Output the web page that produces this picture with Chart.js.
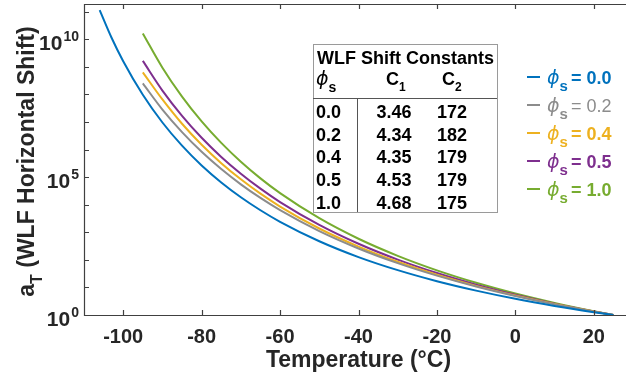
<!DOCTYPE html>
<html>
<head>
<meta charset="utf-8">
<script src="https://cdn.jsdelivr.net/npm/chart.js@4.4.1/dist/chart.umd.min.js"></script>
<style>
  html, body { margin: 0; padding: 0; background: #fff; overflow: hidden; }
  #wrap { position: relative; width: 640px; height: 378px; }
</style>
</head>
<body>
<div id="wrap"><canvas id="chart" width="640" height="378"></canvas></div>
<script>
// ---------------- DATA ----------------
const phiLabels = ['0.0', '0.2', '0.4', '0.5', '1.0'];
const c1Values = ['3.46', '4.34', '4.35', '4.53', '4.68'];
const c2Values = ['172', '182', '179', '179', '175'];

// temperature (°C)
const tempsBlue = [-106, -103, -100, -95, -90, -85, -80, -75, -70, -65, -60, -50, -40, -30, -20, -10, 0, 10, 20, 25];
const tempsOther = [-95, -90, -85, -80, -75, -70, -65, -60, -50, -40, -30, -20, -10, 0, 10, 20, 25];

const aT00 = [1.14e11, 1.16e10, 1.59e9, 9.66e7, 9.57e6, 1.38e6, 2.64e5, 6.40e4, 1.86e4, 6.28e3, 2.40e3, 473, 126, 42.3, 16.8, 7.66, 3.87, 2.14, 1.27, 1];
const aT02 = [2.51e8, 2.81e7, 4.28e6, 8.28e5, 1.96e5, 5.48e4, 1.76e4, 6.35e3, 1.10e3, 258, 75.9, 26.7, 10.8, 4.91, 2.45, 1.33, 1];
const aT04 = [6.31e8, 6.55e7, 8.61e6, 1.49e6, 3.21e5, 8.32e4, 2.51e4, 8.59e3, 1.37e3, 302, 84.9, 28.9, 11.4, 5.08, 2.50, 1.33, 1];
const aT05 = [1.64e9, 1.38e8, 1.67e7, 2.68e6, 5.42e5, 1.33e5, 3.81e4, 1.25e4, 1.85e3, 383, 102, 33.2, 12.6, 5.43, 2.59, 1.35, 1];
const aT10 = [1.63e10, 9.33e8, 8.32e7, 1.05e7, 1.74e6, 3.61e5, 9.02e4, 2.63e4, 3.24e3, 582, 140, 41.7, 14.8, 6.03, 2.75, 1.37, 1];

const xTicks = [-100, -80, -60, -40, -20, 0, 20];
const yDecades = [0, 1, 2, 3, 4, 5, 6, 7, 8, 9, 10, 11];
const yLabelled = [0, 5, 10];

const colors = ['#0072BD', '#8C8C8C', '#EDB120', '#7E2F8E', '#77AC30'];
const FONT = "'Liberation Sans', Arial, sans-serif";
const AXIS = '#262626';

const toPts = (xs, ys) => xs.map((x, i) => ({ x, y: ys[i] }));
const series = [
  toPts(tempsBlue, aT00),
  toPts(tempsOther, aT02),
  toPts(tempsOther, aT04),
  toPts(tempsOther, aT05),
  toPts(tempsOther, aT10)
];

// draw text with a subscript/superscript part, returns end x
function drawRun(ctx, x, y, parts) {
  for (const p of parts) {
    ctx.font = p.font;
    ctx.fillStyle = p.color || ctx.fillStyle;
    ctx.fillText(p.text, x, y + (p.dy || 0));
    x += ctx.measureText(p.text).width + (p.gap || 0);
  }
  return x;
}

// ---------------- DECORATION PLUGIN ----------------
const decor = {
  id: 'decor',
  afterDraw(chart) {
    const { ctx, chartArea: a, scales: { x, y } } = chart;
    ctx.save();

    // frame (left, bottom, top)
    ctx.strokeStyle = '#404040';
    ctx.lineWidth = 1.2;
    ctx.beginPath();
    ctx.moveTo(a.right, a.top + 0.5);
    ctx.lineTo(a.left + 0.5, a.top + 0.5);
    ctx.lineTo(a.left + 0.5, a.bottom + 0.5);
    ctx.lineTo(a.right, a.bottom + 0.5);
    ctx.stroke();

    // inward ticks
    ctx.beginPath();
    xTicks.forEach(v => {
      const px = Math.round(x.getPixelForValue(v)) + 0.5;
      ctx.moveTo(px, a.bottom); ctx.lineTo(px, a.bottom - 5);
      ctx.moveTo(px, a.top); ctx.lineTo(px, a.top + 5);
    });
    yDecades.forEach(d => {
      const py = Math.round(y.getPixelForValue(Math.pow(10, d))) + 0.5;
      if (py < a.top || py > a.bottom + 1) return;
      ctx.moveTo(a.left, py); ctx.lineTo(a.left + 5, py);
    });
    ctx.stroke();

    // y tick labels 10^n
    ctx.fillStyle = AXIS;
    ctx.textBaseline = 'alphabetic';
    ctx.textAlign = 'left';
    yLabelled.forEach(d => {
      const py = y.getPixelForValue(Math.pow(10, d));
      ctx.font = 'bold 14px ' + FONT;
      const ew = ctx.measureText(String(d)).width;
      ctx.font = 'bold 21px ' + FONT;
      const bw = ctx.measureText('10').width;
      const right = a.left - 5;
      ctx.fillText('10', right - ew - bw - 1, py + 11);
      ctx.font = 'bold 14px ' + FONT;
      ctx.fillText(String(d), right - ew, py + 2);
    });

    // y title
    ctx.save();
    ctx.translate(34, (a.top + a.bottom) / 2 + 2);
    ctx.rotate(-Math.PI / 2);
    const tParts = [
      { text: 'a', font: 'bold 23px ' + FONT },
      { text: 'T', font: 'bold 16px ' + FONT, dy: 8 },
      { text: ' (WLF Horizontal Shift)', font: 'bold 23px ' + FONT }
    ];
    let tw = 0;
    tParts.forEach(p => { ctx.font = p.font; tw += ctx.measureText(p.text).width; });
    ctx.fillStyle = AXIS;
    drawRun(ctx, -tw / 2, 0, tParts);
    ctx.restore();

    // legend
    ctx.textBaseline = 'alphabetic';
    phiLabels.forEach((lab, i) => {
      const ly = 77 + i * 28;
      ctx.strokeStyle = colors[i];
      ctx.lineWidth = 2;
      ctx.beginPath();
      ctx.moveTo(527, ly); ctx.lineTo(540, ly);
      ctx.stroke();
      const w = i === 1 ? '' : 'bold ';
      drawRun(ctx, 547, ly + 7, [
        { text: '\u03D5', font: 'italic 19px "DejaVu Sans"', color: colors[i] },
        { text: 's', font: 'bold 15px ' + FONT, dy: 7, gap: 3 },
        { text: '= ' + lab, font: w + '18px ' + FONT }
      ]);
    });

    // WLF table
    const bx = 313, by = 44, bw2 = 184, bh = 168;
    ctx.fillStyle = '#fff';
    ctx.fillRect(bx, by, bw2, bh);
    ctx.strokeStyle = '#9a9a9a';
    ctx.lineWidth = 1;
    ctx.strokeRect(bx + 0.5, by + 0.5, bw2, bh);
    ctx.strokeStyle = '#555';
    ctx.beginPath();
    ctx.moveTo(bx, 98.5); ctx.lineTo(bx + bw2, 98.5);
    ctx.moveTo(357.5, 98.5); ctx.lineTo(357.5, by + bh);
    ctx.stroke();

    ctx.fillStyle = '#000';
    ctx.textAlign = 'left';
    ctx.font = 'bold 18px ' + FONT;
    ctx.fillText('WLF Shift Constants', 317, 64);
    drawRun(ctx, 316, 85, [
      { text: '\u03D5', font: 'italic 19px "DejaVu Sans"' },
      { text: 's', font: 'bold 14px ' + FONT, dy: 7 }
    ]);
    drawRun(ctx, 386, 85, [
      { text: 'C', font: 'bold 18px ' + FONT },
      { text: '1', font: 'bold 12px ' + FONT, dy: 6 }
    ]);
    drawRun(ctx, 442, 85, [
      { text: 'C', font: 'bold 18px ' + FONT },
      { text: '2', font: 'bold 12px ' + FONT, dy: 6 }
    ]);
    ctx.font = 'bold 18px ' + FONT;
    phiLabels.forEach((lab, i) => {
      const ry = 118 + i * 22.7;
      ctx.textAlign = 'left';
      ctx.fillText(lab, 316, ry);
      ctx.textAlign = 'center';
      ctx.fillText(c1Values[i], 394, ry);
      ctx.fillText(c2Values[i], 452, ry);
    });
    ctx.restore();
  }
};

// ---------------- CHART ----------------
const ctx = document.getElementById('chart').getContext('2d');
new Chart(ctx, {
  type: 'line',
  data: {
    datasets: series.map((pts, i) => ({
      label: '\u03D5s = ' + phiLabels[i],
      data: pts,
      borderColor: colors[i],
      borderWidth: 2,
      pointRadius: 0,
      fill: false,
      cubicInterpolationMode: 'monotone'
    }))
  },
  options: {
    responsive: false,
    animation: false,
    layout: { padding: { left: 84, top: 4, right: 7, bottom: 0 } },
    plugins: { legend: { display: false }, tooltip: { enabled: false } },
    scales: {
      x: {
        type: 'linear',
        min: -110,
        max: 30,
        afterBuildTicks: s => { s.ticks = xTicks.map(v => ({ value: v })); },
        afterFit: s => { s.height = 63; },
        grid: { display: false, drawTicks: false },
        border: { display: false },
        ticks: {
          font: { family: FONT, size: 20, weight: 'bold' },
          color: AXIS,
          padding: 10,
          maxRotation: 0,
          autoSkip: false
        },
        title: {
          display: true,
          text: 'Temperature (°C)',
          font: { family: FONT, size: 23, weight: 'bold' },
          color: AXIS,
          padding: { top: 0, bottom: 4 }
        }
      },
      y: {
        type: 'logarithmic',
        min: 1,
        max: 1.9e11,
        afterBuildTicks: s => { s.ticks = yDecades.map(d => ({ value: Math.pow(10, d) })); },
        afterFit: s => { s.width = 0; },
        grid: { display: false, drawTicks: false },
        border: { display: false },
        ticks: { display: false }
      }
    }
  },
  plugins: [decor]
});
</script>
</body>
</html>
